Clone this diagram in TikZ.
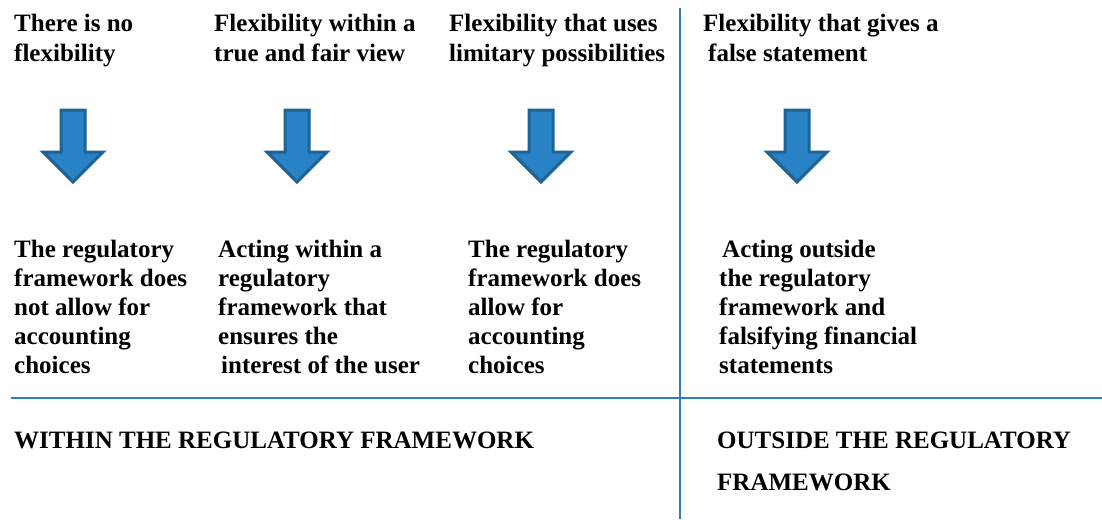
\documentclass[tikz,border=0pt]{standalone}
\usepackage{fontspec}
\setmainfont{Liberation Serif}
\definecolor{arrfill}{RGB}{42,130,198}
\definecolor{arrline}{RGB}{31,98,148}
\definecolor{rule}{RGB}{46,124,192}
\tikzset{
  lbl/.style={anchor=base west, inner sep=0pt, align=left, font=\fontsize{25}{29}\selectfont\bfseries},
  biglbl/.style={lbl, font=\fontsize{25}{42}\selectfont\bfseries},
  divider/.style={draw=rule, line width=2pt},
  downarrow/.style={fill=arrfill, draw=arrline, line width=3pt, line join=miter}
}
\newcommand{\downarr}[1]{%
  \path[downarrow] (#1-12,110) -- (#1+12,110) -- (#1+12,152) -- (#1+30,152) -- (#1,182) -- (#1-30,152) -- (#1-12,152) -- cycle;}
\begin{document}
\begin{tikzpicture}[x=1pt,y=-1pt]
\useasboundingbox (0,0) rectangle (1102,519);
% dividers
\coordinate (hl) at (11,398);
\coordinate (hr) at (1102,398);
\coordinate (vt) at (680,8);
\coordinate (vb) at (680,519);
\draw[divider] (hl) -- (hr);
\draw[divider] (vt) -- (vb);
% headings (anchored at the baseline of the last line)
\node[lbl] (h1) at (14,61) {There is no\\flexibility};
\node[lbl] (h2) at (214,61) {Flexibility within a\\true and fair view};
\node[lbl] (h3) at (449,61) {Flexibility that uses\\limitary possibilities};
\node[lbl] (h4) at (703,61) {Flexibility that gives a\\\hspace*{5pt}false statement};
% arrows
\downarr{73}
\downarr{297}
\downarr{541}
\downarr{797}
% descriptions
\node[lbl] (d1) at (14,373) {The regulatory\\framework does\\not allow for\\accounting\\choices};
\node[lbl] (d2) at (218,373) {Acting within a\\regulatory\\framework that\\ensures the\\\hspace*{3pt}interest of the user};
\node[lbl] (d3) at (468,373) {The regulatory\\framework does\\allow for\\accounting\\choices};
\node[lbl] (d4) at (719,373) {\hspace*{3pt}Acting outside\\the regulatory\\framework and\\falsifying financial\\statements};
% bottom labels
\node[lbl] (w) at (14,448) {WITHIN THE REGULATORY FRAMEWORK};
\node[biglbl] (o) at (717,490) {OUTSIDE THE REGULATORY\\FRAMEWORK};
\end{tikzpicture}
\end{document}
